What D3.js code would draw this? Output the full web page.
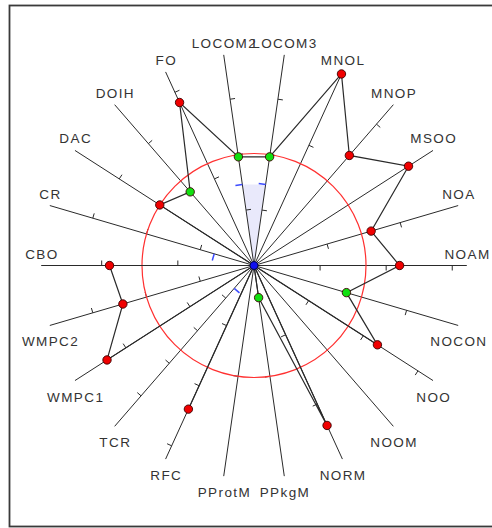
<!DOCTYPE html>
<html>
<head>
<meta charset="utf-8">
<script src="https://cdn.jsdelivr.net/npm/d3@7"></script>
<style>
  html, body { margin: 0; padding: 0; background: #fff; }
  svg { display: block; }
  text { font-family: "Liberation Sans", Arial, sans-serif; }
</style>
</head>
<body>
<svg id="chart" width="492" height="528"></svg>
<script>
// Kiviat diagram of class metrics; each axis is expressed relative to its
// upper threshold (1 = on the red circle).
const metrics = ["CBO", "CR", "DAC", "DOIH", "FO", "LOCOM2", "LOCOM3", "MNOL", "MNOP", "MSOO", "NOA",
                 "NOAM", "NOCON", "NOO", "NOOM", "NORM", "PPkgM", "PProtM", "RFC", "TCR", "WMPC1", "WMPC2"];
const values = [1.29, 0, 1.0, 0.87, 1.60, 0.98, 0.98, 1.88, 1.30, 1.64, 1.09,
                1.30, 0.86, 1.31, 0, 1.57, 0.29, 0, 1.41, 0, 1.56, 1.22];
const tickSteps = [0.68, 0.5, 1.43, 1.44, 0.85, 0.5, 0.5, 1.18, 1.67, 2, 0.68,
                   0.59, 1.42, 0.58, 2, 0.68, 1, 1, 0.59, 0.385, 0.68, 0.5];
const lowerBounds = [0, 0.37, 0, 0, 0, 0.73, 0.73, 0, 0, 0, 0,
                     0, 0, 0, 0, 0, 0, 0, 0, 0.27, 0, 0];
const upperBound = 1;
const axisMax = 1.9;

const svg = d3.select("#chart");
const cx = 254, cy = 265.5;

const r = d3.scaleLinear().domain([0, upperBound]).range([0, 112]);
const angle = d3.scaleLinear().domain([0, metrics.length]).range([Math.PI, -Math.PI]);

const ux = i => Math.cos(angle(i));
const uy = i => -Math.sin(angle(i));
const px = (i, v) => cx + r(v) * ux(i);
const py = (i, v) => cy + r(v) * uy(i);

// outer frame
svg.append("rect")
  .attr("x", 9.5).attr("y", 5.5).attr("width", 520).attr("height", 521)
  .attr("fill", "none").attr("stroke", "#3a3a3a").attr("stroke-width", 1.8);

const g = svg.append("g");

// lower-threshold area
g.append("path")
  .attr("d", d3.line()(metrics.map((m, i) => [px(i, lowerBounds[i]), py(i, lowerBounds[i])])) + "Z")
  .attr("fill", "#e9e9fb").attr("stroke", "none");

// axes
g.selectAll("line.axis").data(metrics).join("line")
  .attr("class", "axis")
  .attr("x1", cx).attr("y1", cy)
  .attr("x2", (m, i) => px(i, axisMax)).attr("y2", (m, i) => py(i, axisMax))
  .attr("stroke", "#2a2a2a").attr("stroke-width", 1);

// scale ticks on each axis
const ticks = [];
metrics.forEach((m, i) => {
  for (let k = 1; k * tickSteps[i] <= axisMax + 1e-9; k++) ticks.push({ i, v: k * tickSteps[i] });
});
g.selectAll("line.tick").data(ticks).join("line")
  .attr("class", "tick")
  .attr("x1", d => px(d.i, d.v)).attr("y1", d => py(d.i, d.v))
  .attr("x2", d => px(d.i, d.v) - 5 * uy(d.i)).attr("y2", d => py(d.i, d.v) + 5 * ux(d.i))
  .attr("stroke", "#2a2a2a").attr("stroke-width", 1);

// lower-threshold marks
const lows = metrics.map((m, i) => ({ i, v: lowerBounds[i] })).filter(d => d.v > 0);
g.selectAll("line.low").data(lows).join("line")
  .attr("class", "low")
  .attr("x1", d => px(d.i, d.v)).attr("y1", d => py(d.i, d.v))
  .attr("x2", d => px(d.i, d.v) + 7 * uy(d.i)).attr("y2", d => py(d.i, d.v) - 7 * ux(d.i))
  .attr("stroke", "#3b4bff").attr("stroke-width", 1.5);

// upper-threshold circle
g.append("circle")
  .attr("cx", cx).attr("cy", cy).attr("r", r(upperBound))
  .attr("fill", "none").attr("stroke", "#ff3030").attr("stroke-width", 1.2);

// value polygon
g.append("path")
  .attr("d", d3.line()(metrics.map((m, i) => [px(i, values[i]), py(i, values[i])])) + "Z")
  .attr("fill", "none").attr("stroke", "#2a2a2a").attr("stroke-width", 1.2);

// value markers
const pts = metrics.map((m, i) => ({ i, v: values[i] })).filter(d => d.v > 0);
g.selectAll("circle.pt").data(pts).join("circle")
  .attr("class", "pt")
  .attr("cx", d => px(d.i, d.v)).attr("cy", d => py(d.i, d.v)).attr("r", 4.2)
  .attr("fill", d => (d.v >= upperBound || d.v < lowerBounds[d.i]) ? "#f00000" : "#10e010")
  .attr("stroke", "#3a0000").attr("stroke-width", 0.9);

// centre marker
g.append("circle")
  .attr("cx", cx).attr("cy", cy).attr("r", 4)
  .attr("fill", "#1010f0").attr("stroke", "#000040").attr("stroke-width", 0.9);

// axis labels
g.selectAll("text.lbl").data(metrics).join("text")
  .attr("class", "lbl")
  .attr("x", (m, i) => px(i, axisMax) + 0.7)
  .attr("y", (m, i) => {
    const a = angle(i);
    return Math.sin(a) >= -1e-9 ? py(i, axisMax) - 7 : py(i, axisMax) + 21;
  })
  .attr("text-anchor", "middle")
  .attr("font-size", 13.5)
  .attr("letter-spacing", 1.4)
  .attr("fill", "#333")
  .text(d => d);
</script>
</body>
</html>
